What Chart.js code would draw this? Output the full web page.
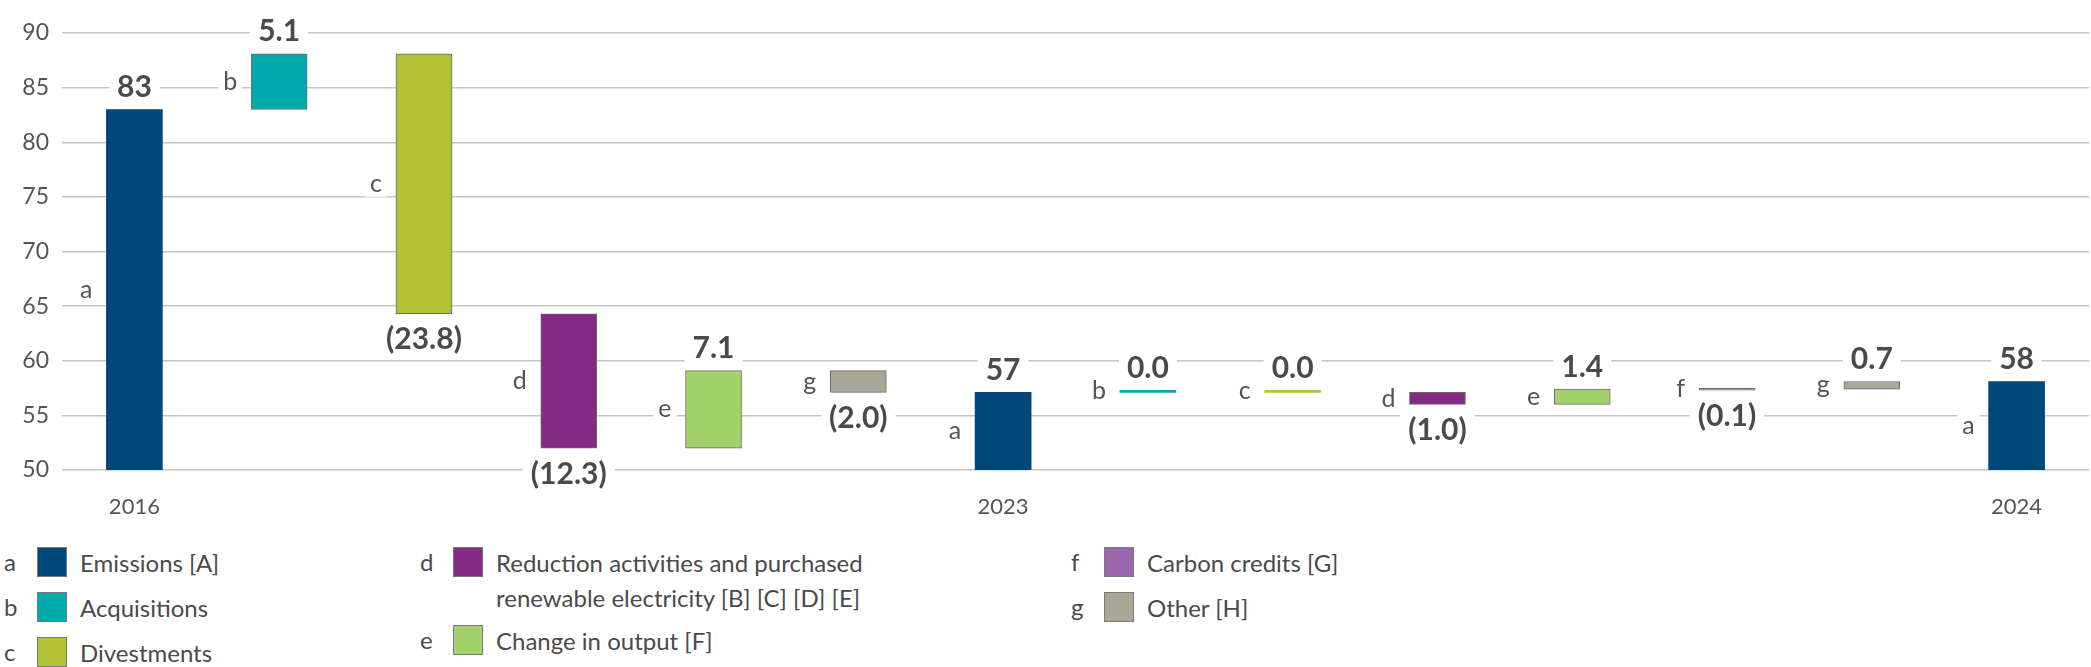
<!DOCTYPE html>
<html>
<head>
<meta charset="utf-8">
<script src="https://cdn.jsdelivr.net/npm/chart.js"></script>
<style>
	body { margin: 0; background: #fff; font-family: Lato, "Open Sans", sans-serif; color: #4a4a4c; }
	#wrap { position: relative; width: 2091px; height: 667px; overflow: hidden; }
	#chart { position: absolute; left: 0; top: 0; }
	.legend-col { position: absolute; top: 547px; }
	.legend-item { display: flex; align-items: flex-start; height: 45px; }
	.legend-item.tall { height: 78px; }
	.legend-letter { width: 33px; font-size: 24px; line-height: 30px; }
	.legend-swatch { width: 28px; height: 28px; border: 1px solid #7a7a7a; }
	.legend-text { margin-left: 13px; font-size: 24px; line-height: 35px; margin-top: -2px; white-space: pre-line; }
</style>
</head>
<body>
<div id="wrap">
	<canvas id="chart" width="2091" height="520"></canvas>
	<div class="legend-col" id="col1" style="left:4px"></div>
	<div class="legend-col" id="col2" style="left:420px"></div>
	<div class="legend-col" id="col3" style="left:1071px"></div>
</div>
<script>
//차트 데이터
var categories = ['2016', '', '', '', '', '', '2023', '', '', '', '', '', '', '2024'];
var letters = ['a', 'b', 'c', 'd', 'e', 'g', 'a', 'b', 'c', 'd', 'e', 'f', 'g', 'a'];
var valueText = ['83', '5.1', '(23.8)', '(12.3)', '7.1', '(2.0)', '57', '0.0', '0.0', '(1.0)', '1.4', '(0.1)', '0.7', '58'];
// null = total bar, drawn from the axis base
var barLow = [null, 83, 64.3, 52.0, 52.0, 57.1, null, 57.1, 57.1, 56.0, 56.0, 57.3, 57.4, null];
var barHigh = [83, 88.1, 88.1, 64.3, 59.1, 59.1, 57.1, 57.1, 57.1, 57.1, 57.4, 57.4, 58.1, 58.1];
var yTicks = [50, 55, 60, 65, 70, 75, 80, 85, 90];

//범례 데이터
var legendLetters = ['a', 'b', 'c', 'd', 'e', 'f', 'g'];
var legendNames = ['Emissions [A]', 'Acquisitions', 'Divestments',
	'Reduction activities and purchased\nrenewable electricity [B] [C] [D] [E]',
	'Change in output [F]', 'Carbon credits [G]', 'Other [H]'];

var colors = {
	a: '#00487a', b: '#00a9ac', c: '#b1c235', d: '#832a84',
	e: '#a3d16c', f: '#9a66ad', g: '#a8a798'
};

var barData = barHigh.map(function (hi, i) {
	return barLow[i] === null ? hi : [barLow[i], hi];
});
var barColors = letters.map(function (l) { return colors[l]; });
var borderColors = letters.map(function (l, i) {
	if (l === 'a') return colors.a;
	if (barLow[i] === barHigh[i]) return colors[l];
	return '#6b6b6b';
});
var borderWidths = letters.map(function (l, i) {
	return (l === 'a' || barLow[i] === barHigh[i]) ? 0 : 1;
});

//라벨 플러그인
var labelPlugin = {
	id: 'waterfallLabels',
	afterDatasetsDraw: function (chart) {
		var ctx = chart.ctx;
		var area = chart.chartArea;
		var meta = chart.getDatasetMeta(0);
		ctx.save();
		meta.data.forEach(function (bar, i) {
			var p = bar.getProps(['x', 'y', 'base', 'width'], true);
			var top = Math.max(Math.min(p.y, p.base), area.top);
			var bottom = Math.min(Math.max(p.y, p.base), area.bottom);
			var txt = valueText[i];
			var below = txt.charAt(0) === '(';

			// value
			ctx.font = 'bold 30px Lato, "Open Sans", sans-serif';
			ctx.textAlign = 'center';
			ctx.textBaseline = 'middle';
			var ty = below ? bottom + 25 : top - 23;
			var w = ctx.measureText(txt).width;
			ctx.fillStyle = '#fff';
			ctx.fillRect(p.x - w / 2 - 8, ty - 15, w + 16, 30);
			ctx.fillStyle = '#4a4a4c';
			ctx.fillText(txt, p.x, ty + 1);

			// letter
			ctx.font = '25px Lato, "Open Sans", sans-serif';
			ctx.textAlign = 'right';
			var lx = p.x - p.width / 2 - 14;
			var ly = (top + bottom) / 2;
			var lw = ctx.measureText(letters[i]).width;
			ctx.fillStyle = '#fff';
			ctx.fillRect(lx - lw - 5, ly - 13, lw + 10, 26);
			ctx.fillStyle = '#555';
			ctx.fillText(letters[i], lx, ly);
		});
		ctx.restore();
	}
};

new Chart(document.getElementById('chart'), {
	type: 'bar',
	data: {
		labels: categories,
		datasets: [{
			data: barData,
			backgroundColor: barColors,
			borderColor: borderColors,
			borderWidth: borderWidths,
			borderSkipped: false,
			minBarLength: 2,
			barThickness: 56
		}]
	},
	options: {
		responsive: false,
		animation: false,
		devicePixelRatio: 1,
		layout: { padding: { top: 33, right: 2, left: 0, bottom: 0 } },
		plugins: { legend: { display: false }, tooltip: { enabled: false } },
		scales: {
			x: {
				grid: { display: false },
				border: { display: false },
				ticks: {
					autoSkip: false, maxRotation: 0, padding: 16,
					color: '#555', font: { family: 'Lato', size: 22 }
				},
				afterFit: function (s) { s.height = 50; }
			},
			y: {
				min: 50, max: 90,
				afterBuildTicks: function (s) {
					s.ticks = yTicks.map(function (v) { return { value: v }; });
				},
				grid: { color: '#c4c4c4', lineWidth: 1.5, drawTicks: false },
				border: { display: false },
				ticks: {
					padding: 13, color: '#555',
					font: { family: 'Lato', size: 23 }
				},
				afterFit: function (s) { s.width = 62; }
			}
		}
	},
	plugins: [labelPlugin]
});

//범례
var cols = [['a', 'b', 'c'], ['d', 'e'], ['f', 'g']];
cols.forEach(function (list, c) {
	var col = document.getElementById('col' + (c + 1));
	list.forEach(function (l) {
		var idx = legendLetters.indexOf(l);
		var item = document.createElement('div');
		item.className = 'legend-item' + (legendNames[idx].indexOf('\n') >= 0 ? ' tall' : '');
		item.innerHTML = '<span class="legend-letter"></span><span class="legend-swatch"></span><span class="legend-text"></span>';
		item.children[0].textContent = l;
		item.children[1].style.background = colors[l];
		item.children[2].textContent = legendNames[idx];
		col.appendChild(item);
	});
});
</script>
</body>
</html>
